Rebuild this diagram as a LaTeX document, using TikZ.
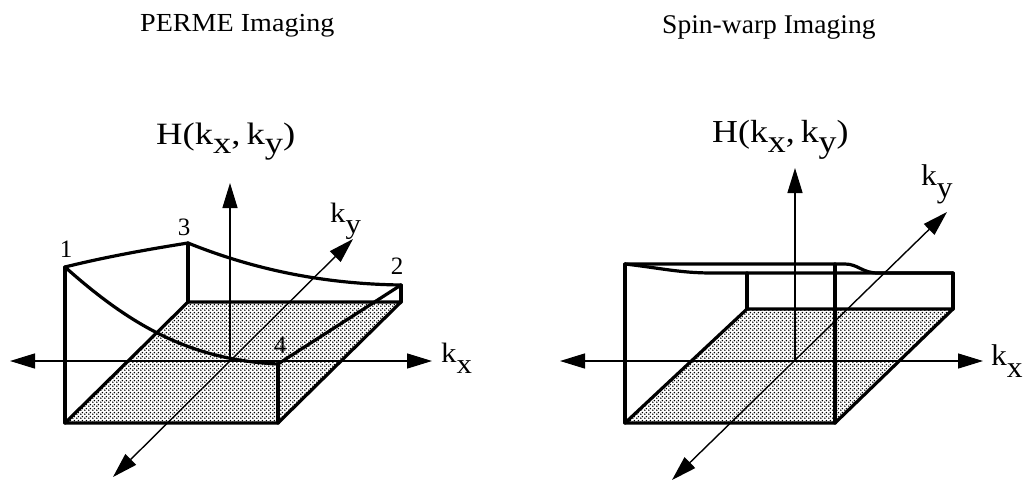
\documentclass[tikz,border=0pt]{standalone}
\usepackage{fontspec}
\setmainfont{Liberation Serif}
\usepackage{graphicx}
\usetikzlibrary{arrows.meta,patterns.meta}

\tikzdeclarepattern{
  name=fdots,
  type=uncolored,
  bottom left={(0pt,0pt)},
  top right={(4pt,4pt)},
  tile size={(4pt,4pt)},
  code={
    \fill (1pt,1pt) circle (0.95pt);
    \fill (3pt,3pt) circle (0.95pt);
  }
}

\newcommand{\wx}[2]{\scalebox{#1}[1]{#2}}
\newcommand{\Hlab}{H(k\raisebox{-0.32em}{x},\,k\raisebox{-0.32em}{y})}
\newcommand{\Klab}[1]{k\raisebox{-0.4em}{#1}}

\tikzset{
  myarr/.tip={Triangle[length=25pt,width=15pt]},
  axis/.style={line width=1.4pt},
  edge/.style={line width=3.2pt, line join=round, line cap=round},
  floor/.style={pattern=fdots},
  title/.style={inner sep=0pt, anchor=base west},
  lab/.style={inner sep=0pt, anchor=base west},
  num/.style={inner sep=0pt, font=\fontsize{25}{27}\selectfont},
}

\begin{document}
\begin{tikzpicture}[x=1pt,y=-1pt]
\useasboundingbox (0,0) rectangle (1024,482);

% titles
\node[title, font=\fontsize{26}{28}\selectfont] (t1) at (140,31) {\wx{1.08}{PERME Imaging}};
\node[title, font=\fontsize{27}{30}\selectfont] (t2) at (662,33) {\wx{1.02}{Spin-warp Imaging}};

% ---------------- left: PERME ----------------
\coordinate (LO)  at (230,361);
\coordinate (LHt) at (230,183);
\coordinate (LXl) at (10,361);
\coordinate (LXr) at (432,361);
\coordinate (LYb) at (113,477);
\coordinate (LYt) at (353,239);
\coordinate (LA) at (65,423);
\coordinate (LB) at (278,423);
\coordinate (LC) at (401,302);
\coordinate (LD) at (188,302);
\coordinate (L1) at (65,267);
\coordinate (L3) at (188,243);
\coordinate (L2) at (401,285);
\coordinate (L4) at (278,364);

\fill[floor] (LA) -- (LB) -- (LC) -- (LD) -- cycle;
\draw[edge] (LA) -- (LB) -- (LC) -- (LD) -- cycle;
\draw[edge] (LA) -- (L1);
\draw[edge] (LD) -- (L3);
\draw[edge] (LC) -- (L2);
\draw[edge] (LB) -- (L4);
\draw[edge] (L1) .. controls (105,257) and (150,249) .. (L3);
\draw[edge] (L3) .. controls (260,272) and (330,284) .. (L2);
\draw[edge] (L1) .. controls (130,325) and (190,360) .. (L4);
\draw[edge] (L4) -- (L2);

\draw[axis,-myarr] (LO) -- (LHt);
\draw[axis,myarr-myarr] (LXl) -- (LXr);
\draw[axis,myarr-myarr] (LYb) -- (LYt);

\node[lab, font=\fontsize{31}{33}\selectfont] (LH) at (156,144) {\wx{1.18}{\Hlab}};
\node[lab, font=\fontsize{28}{30}\selectfont] (Lkx) at (441,362) {\wx{1.1}{\Klab{x}}};
\node[lab, font=\fontsize{28}{30}\selectfont] (Lky) at (330,222) {\wx{1.1}{\Klab{y}}};
\node[num] (n1) at (66,249) {1};
\node[num] (n3) at (184,227) {3};
\node[num] (n2) at (397,266) {2};
\node[num] (n4) at (280,345) {4};

% ---------------- right: Spin-warp ----------------
\coordinate (RO)  at (795,361);
\coordinate (RHt) at (795,168);
\coordinate (RXl) at (560,361);
\coordinate (RXr) at (983,361);
\coordinate (RYb) at (672,480);
\coordinate (RYt) at (947,212);
\coordinate (RA) at (625,423);
\coordinate (RB) at (835,423);
\coordinate (RC) at (953,309);
\coordinate (RD) at (747,309);
\coordinate (RT1) at (625,264);
\coordinate (RT2) at (835,264);
\coordinate (RDt) at (747,273);
\coordinate (RCt) at (953,273);

\fill[floor] (RA) -- (RB) -- (RC) -- (RD) -- cycle;
\draw[edge] (RA) -- (RB) -- (RC) -- (RD) -- cycle;
\draw[edge] (RA) -- (RT1);
\draw[edge] (RB) -- (RT2);
\draw[edge] (RD) -- (RDt);
\draw[edge] (RC) -- (RCt);
\draw[edge] (RT1) -- (RT2) -- (845,264) .. controls (858,264) and (862,273) .. (878,273) -- (RCt);
\draw[edge] (RT1) .. controls (660,268) and (680,273) .. (712,273) -- (RDt) -- (RCt);

\draw[axis,-myarr] (RO) -- (RHt);
\draw[axis,myarr-myarr] (RXl) -- (RXr);
\draw[axis,myarr-myarr] (RYb) -- (RYt);

\node[lab, font=\fontsize{32}{34}\selectfont] (RH) at (712,142) {\wx{1.12}{\Hlab}};
\node[lab, font=\fontsize{30}{32}\selectfont] (Rkx) at (991,365) {\wx{1.05}{\Klab{x}}};
\node[lab, font=\fontsize{30}{32}\selectfont] (Rky) at (921,185) {\wx{1.05}{\Klab{y}}};
\end{tikzpicture}
\end{document}
